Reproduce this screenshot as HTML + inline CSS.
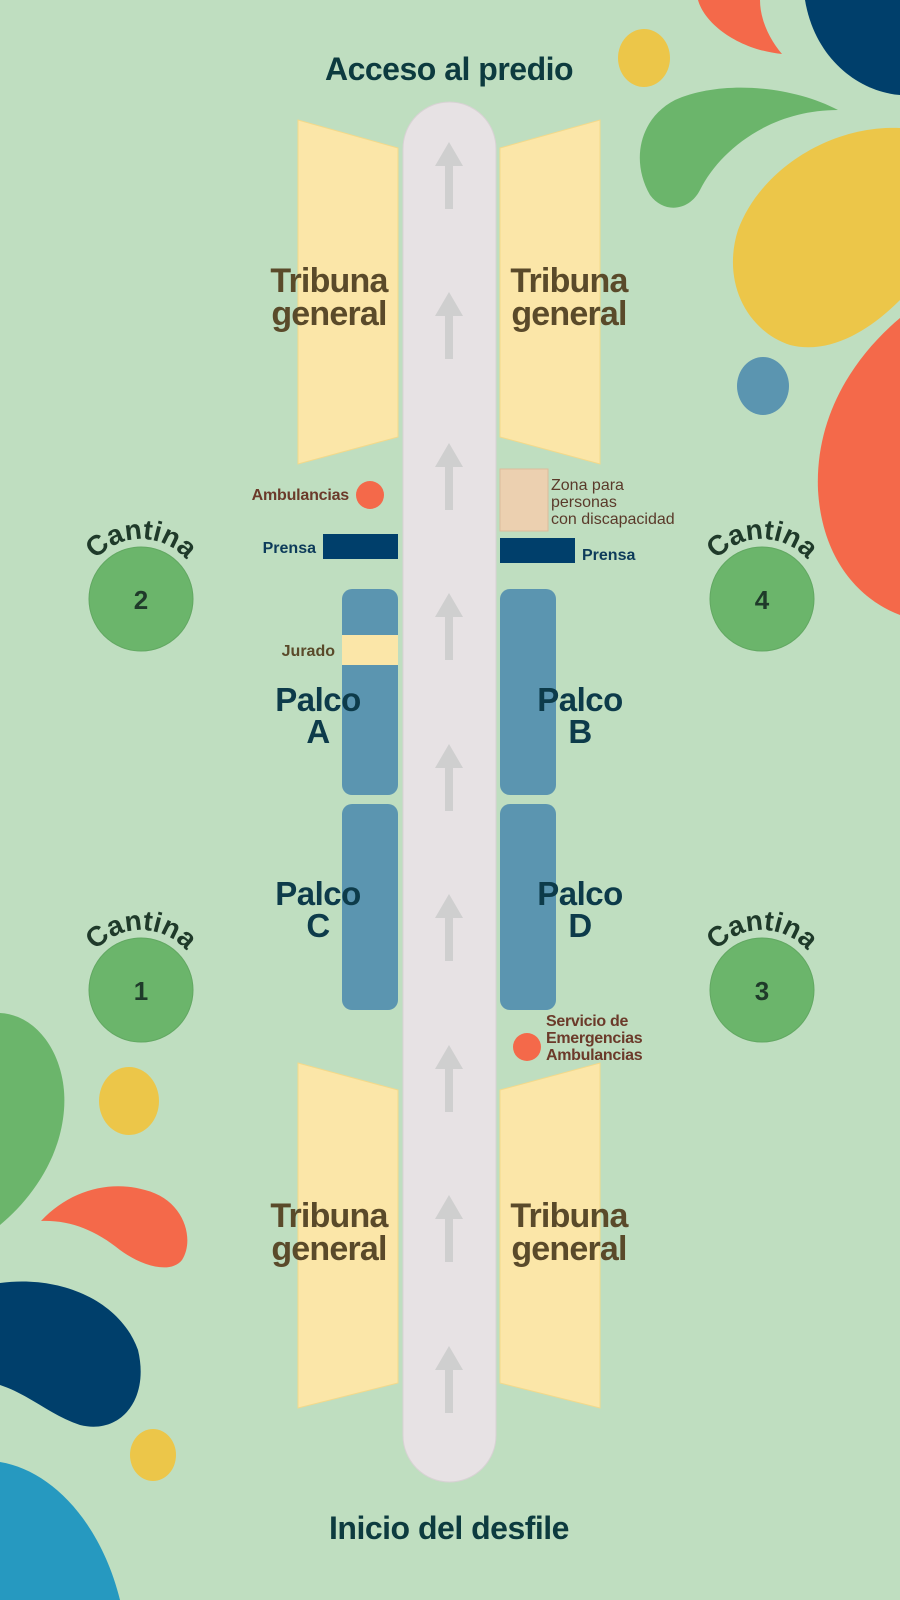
<!DOCTYPE html>
<html><head><meta charset="utf-8"><style>
html,body{margin:0;padding:0;background:#bfdec0;}
svg{display:block}
text{font-family:"Liberation Sans",sans-serif;}
</style></head><body>
<svg width="900" height="1600" viewBox="0 0 900 1600" xmlns="http://www.w3.org/2000/svg">
<rect width="900" height="1600" fill="#bfdec0"/>
<path d="M698,0 L760,0 C760,20 770,40 782,54 C740,50 705,25 698,0Z" fill="#f4694a"/>
<path d="M805,0 L900,0 L900,95 C860,92 815,60 805,0Z" fill="#003f6b"/>
<ellipse cx="644" cy="58" rx="26" ry="29" fill="#ecc649"/>
<path d="M838,110 C790,85 720,80 675,100 C640,118 630,160 650,195 C665,215 690,210 700,190 C720,150 770,110 838,110Z" fill="#6bb56b"/>
<path d="M900,128 C830,125 760,170 738,230 C722,280 745,330 790,345 C830,355 870,330 900,300Z" fill="#ecc649"/>
<ellipse cx="763" cy="386" rx="26" ry="29" fill="#5b95b0"/>
<path d="M900,318 C850,360 815,420 818,490 C822,560 860,600 900,615Z" fill="#f4694a"/>
<path d="M0,1013 C40,1015 68,1060 64,1110 C60,1160 30,1200 0,1225Z" fill="#6bb56b"/>
<ellipse cx="129" cy="1101" rx="30" ry="34" fill="#ecc649"/>
<path d="M41,1221 C70,1190 110,1180 145,1190 C185,1200 195,1240 182,1260 C170,1275 140,1265 120,1250 C95,1230 70,1220 41,1221Z" fill="#f4694a"/>
<path d="M0,1283 C60,1275 120,1300 138,1350 C150,1400 120,1435 80,1425 C50,1415 30,1395 0,1385Z" fill="#003f6b"/>
<ellipse cx="153" cy="1455" rx="23" ry="26" fill="#ecc649"/>
<path d="M0,1462 C50,1470 100,1520 120,1600 L0,1600Z" fill="#2699c0"/>
<text x="449" y="80" text-anchor="middle" font-size="32" font-weight="bold" fill="#0d3b3f" letter-spacing="-0.5">Acceso al predio</text>
<text x="449" y="1539" text-anchor="middle" font-size="32" font-weight="bold" fill="#0d3b3f" letter-spacing="-0.5">Inicio del desfile</text>
<g fill="#fbe6a8" stroke="#f3d98a" stroke-width="1">
<polygon points="298,120 398,148 398,437 298,464"/>
<polygon points="500,148 600,120 600,464 500,437"/>
<polygon points="298,1063 398,1090 398,1383 298,1408"/>
<polygon points="500,1090 600,1063 600,1408 500,1383"/>
</g>
<rect x="403" y="102" width="93" height="1380" rx="46.5" fill="#e7e2e4" stroke="#d8d2d4" stroke-width="1"/>
<g fill="#cfcfcf">
<g id="ar"><polygon points="449,142 435,166 463,166"/><rect x="445" y="165" width="8" height="44"/></g>
<use href="#ar" y="150"/><use href="#ar" y="301"/><use href="#ar" y="451"/><use href="#ar" y="602"/>
<use href="#ar" y="752"/><use href="#ar" y="903"/><use href="#ar" y="1053"/><use href="#ar" y="1204"/>
</g>
<g font-size="34" font-weight="bold" fill="#5a4a2a" text-anchor="middle" letter-spacing="-0.8">
<text x="329" y="292">Tribuna</text><text x="329" y="325">general</text>
<text x="569" y="292">Tribuna</text><text x="569" y="325">general</text>
<text x="329" y="1227">Tribuna</text><text x="329" y="1260">general</text>
<text x="569" y="1227">Tribuna</text><text x="569" y="1260">general</text>
</g>
<text x="349" y="500" text-anchor="end" font-size="16" font-weight="bold" fill="#6b3a2a" letter-spacing="-0.2">Ambulancias</text>
<circle cx="370" cy="495" r="14" fill="#f4694a"/>
<rect x="500" y="469" width="48" height="62" fill="#ecd0b0" stroke="#dcbc9c"/>
<g font-size="16" fill="#5a3a2a"><text x="551" y="490">Zona para</text><text x="551" y="507">personas</text><text x="551" y="524">con discapacidad</text></g>
<rect x="323" y="534" width="75" height="25" fill="#003f6b"/>
<text x="316" y="553" text-anchor="end" font-size="16" font-weight="bold" fill="#0d3b5a">Prensa</text>
<rect x="500" y="538" width="75" height="25" fill="#003f6b"/>
<text x="582" y="560" font-size="16" font-weight="bold" fill="#0d3b5a">Prensa</text>
<g fill="#5b95b0">
<rect x="342" y="589" width="56" height="206" rx="10"/>
<rect x="500" y="589" width="56" height="206" rx="10"/>
<rect x="342" y="804" width="56" height="206" rx="10"/>
<rect x="500" y="804" width="56" height="206" rx="10"/>
</g>
<rect x="342" y="635" width="56" height="30" fill="#fbe6a8"/>
<text x="335" y="656" text-anchor="end" font-size="16" font-weight="bold" fill="#5a4a2a">Jurado</text>
<g font-size="33" font-weight="bold" fill="#0d3b4a" text-anchor="middle" letter-spacing="-0.5">
<text x="318" y="711">Palco</text><text x="318" y="743">A</text>
<text x="580" y="711">Palco</text><text x="580" y="743">B</text>
<text x="318" y="905">Palco</text><text x="318" y="937">C</text>
<text x="580" y="905">Palco</text><text x="580" y="937">D</text>
</g>
<circle cx="527" cy="1047" r="14" fill="#f4694a"/>
<g font-size="16" font-weight="bold" fill="#6b3a2a" letter-spacing="-0.3"><text x="546" y="1026">Servicio de</text><text x="546" y="1043">Emergencias</text><text x="546" y="1060">Ambulancias</text></g>
<defs>
<path id="c2" d="M81,599 A60,60 0 0 1 201,599"/>
<path id="c4" d="M702,599 A60,60 0 0 1 822,599"/>
<path id="c1" d="M81,990 A60,60 0 0 1 201,990"/>
<path id="c3" d="M702,990 A60,60 0 0 1 822,990"/>
</defs>
<g fill="#6bb56b" stroke="#62a862">
<circle cx="141" cy="599" r="52"/><circle cx="762" cy="599" r="52"/>
<circle cx="141" cy="990" r="52"/><circle cx="762" cy="990" r="52"/>
</g>
<g font-size="26" font-weight="bold" fill="#1f3a2a" text-anchor="middle">
<text x="141" y="609">2</text><text x="762" y="609">4</text>
<text x="141" y="1000">1</text><text x="762" y="1000">3</text>
</g>
<g font-size="28" font-weight="bold" fill="#1f3a2a">
<text><textPath href="#c2" startOffset="50%" text-anchor="middle">Cantina</textPath></text>
<text><textPath href="#c4" startOffset="50%" text-anchor="middle">Cantina</textPath></text>
<text><textPath href="#c1" startOffset="50%" text-anchor="middle">Cantina</textPath></text>
<text><textPath href="#c3" startOffset="50%" text-anchor="middle">Cantina</textPath></text>
</g>
</svg>
</body></html>
